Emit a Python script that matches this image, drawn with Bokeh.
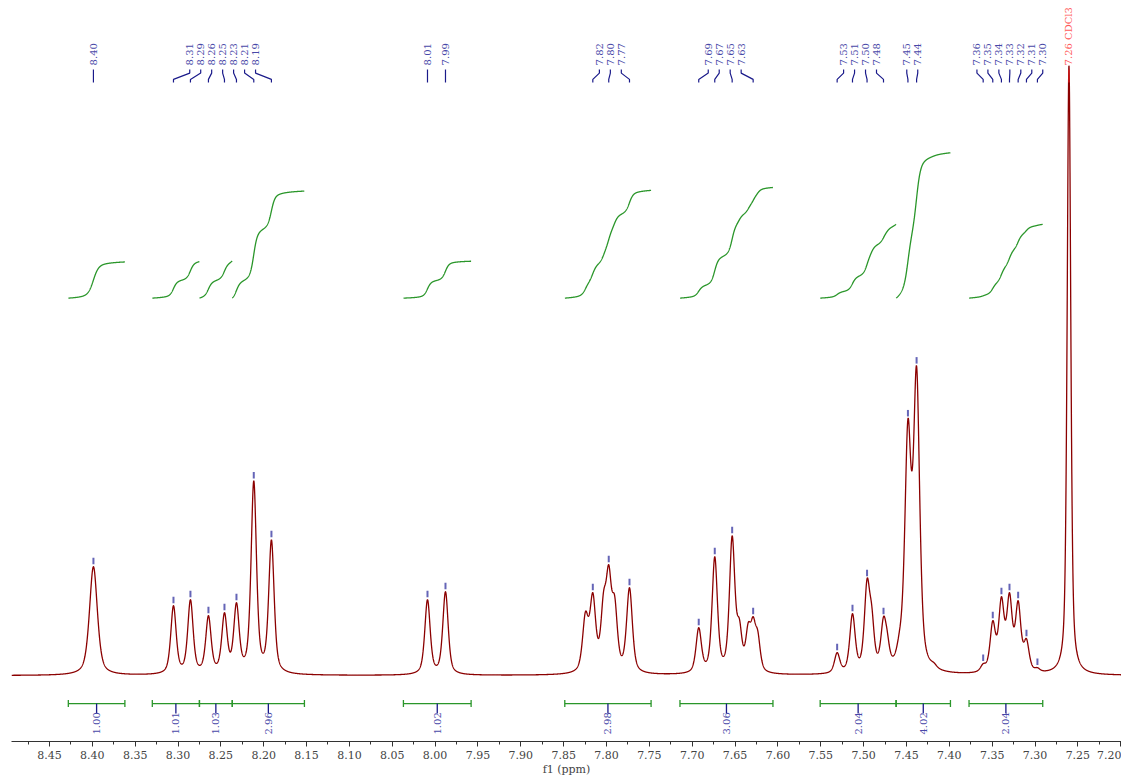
import numpy as np
from bokeh.plotting import figure
from bokeh.models import Range1d, SingleIntervalTicker, PrintfTickFormatter
from bokeh.core.properties import value
from bokeh.embed import file_html
from bokeh.resources import INLINE

# ---- 1H NMR data (CDCl3) ----
# resolved lines: centre (ppm), apex height (intensity), full width at half height (ppm)
line_ppm = [8.3987,
            8.3053, 8.2855, 8.2645, 8.2458, 8.2318, 8.2116, 8.1910,
            8.0089, 7.9879,
            7.8246, 7.8160, 7.8035, 7.7974, 7.7905, 7.7732,
            7.6924, 7.6737, 7.6534, 7.6450, 7.6347, 7.6289, 7.6235,
            7.5309, 7.5130, 7.4960, 7.4905, 7.4768, 7.4725, 7.4580, 7.4483, 7.4382, 7.4180,
            7.3605, 7.3493, 7.3392, 7.3298, 7.3197, 7.3100, 7.2972,
            7.2604]
line_height = [109,
               70, 76, 60, 63, 73, 195, 136,
               76, 84,
               64, 83, 84, 111, 80, 88,
               48, 119, 140, 57, 53, 59, 45,
               23, 62, 97, 70, 59, 45, 46, 257, 310, 13,
               12, 55, 79, 83, 75, 37, 8,
               611]
line_fwhm = [0.0110,
             0.0075, 0.0075, 0.0075, 0.0075, 0.0075, 0.0075, 0.0075,
             0.0075, 0.0075,
             0.0080, 0.0080, 0.0075, 0.0075, 0.0075, 0.0080,
             0.0075, 0.0075, 0.0075, 0.0070, 0.0070, 0.0070, 0.0070,
             0.0075, 0.0075, 0.0075, 0.0070, 0.0075, 0.0070, 0.0080, 0.0085, 0.0085, 0.0080,
             0.0075, 0.0075, 0.0075, 0.0075, 0.0075, 0.0075, 0.0070,
             0.0050]

# picked peaks and the multiplet each label belongs to
picked_ppm = [8.3987,
              8.3053, 8.2855, 8.2645, 8.2458, 8.2318, 8.2116, 8.1910,
              8.0089, 7.9879,
              7.8160, 7.7974, 7.7732,
              7.6924, 7.6737, 7.6534, 7.6289,
              7.5309, 7.5130, 7.4960, 7.4768,
              7.4483, 7.4382,
              7.3605, 7.3493, 7.3392, 7.3298, 7.3197, 7.3100, 7.2972,
              7.2604]
picked_group = [0,
                1, 1, 1, 1, 1, 1, 1,
                2, 3,
                4, 4, 4,
                5, 5, 5, 5,
                6, 6, 6, 6,
                7, 7,
                8, 8, 8, 8, 8, 8, 8,
                9]
solvent_ppm = 7.2604
solvent_name = "CDCl3"

# integration regions (ppm) and their normalised values
integral_start = [8.428, 8.330, 8.275, 8.2367, 8.037, 7.8487, 7.7143, 7.5507, 7.4621, 7.377]
integral_end = [8.362, 8.275, 8.2367, 8.1525, 7.958, 7.748, 7.6058, 7.4621, 7.3987, 7.291]
integral_value = [1.00, 1.01, 1.03, 2.96, 1.02, 2.98, 3.06, 2.04, 4.02, 2.04]

# ---- layout / style ----
X_LEFT, X_RIGHT = 8.4943, 7.1991
Y_BOTTOM, Y_TOP = -66, 676
LABEL_STEP = 0.0128          # spacing of labels inside a multiplet (ppm)
INT_BASE, INT_UNIT = 378, 36.2
SERIF = value("DejaVu Serif")
SPEC_COLOR = "#8b0000"
LABEL_TEXT = "#4848a8"
LABEL_LINE = "#1a1a8a"
GREEN = "#2a962a"


def lineshape(x, c, fwhm, eta=0.55):
    d2 = ((x - c) / (fwhm / 2.0)) ** 2
    return eta / (1.0 + d2) + (1.0 - eta) * np.exp(-np.log(2.0) * d2)


c = np.array(line_ppm)
h = np.array(line_height, dtype=float)
w = np.array(line_fwhm)

# amplitudes so that the summed spectrum passes through the listed apex heights
M = lineshape(c[:, None], c[None, :], w[None, :])
amp = h.copy()
for _ in range(3000):
    amp *= h / (M @ amp)

ppm = np.linspace(X_LEFT, X_RIGHT, 8000)
spec = (lineshape(ppm[:, None], c[None, :], w[None, :]) * amp[None, :]).sum(axis=1)


def spec_at(x):
    return np.interp(x, ppm[::-1], spec[::-1])


p = figure(width=1121, height=778, output_backend="svg", toolbar_location=None,
           x_range=Range1d(X_LEFT, X_RIGHT), y_range=Range1d(Y_BOTTOM, Y_TOP),
           y_axis_location=None, min_border_left=11, min_border_right=0,
           min_border_top=0, min_border_bottom=0)
p.grid.visible = False
p.outline_line_color = None
p.background_fill_color = "white"
p.border_fill_color = "white"

ax = p.xaxis[0]
ax.ticker = SingleIntervalTicker(interval=0.05, num_minor_ticks=2)
ax.formatter = PrintfTickFormatter(format="%.2f")
ax.axis_label = "f1 (ppm)"
ax.axis_label_text_font = "DejaVu Serif"
ax.axis_label_text_font_style = "normal"
ax.axis_label_text_font_size = "11px"
ax.axis_label_text_color = "#444444"
ax.axis_label_standoff = 1
ax.major_label_text_font = "DejaVu Serif"
ax.major_label_text_font_size = "11px"
ax.major_label_text_color = "#444444"
ax.major_label_standoff = 4
ax.axis_line_color = "#333333"
ax.major_tick_line_color = "#333333"
ax.minor_tick_line_color = "#333333"
ax.major_tick_in = 0
ax.major_tick_out = 5
ax.minor_tick_in = 0
ax.minor_tick_out = 3

# spectrum trace
p.line(ppm, spec, line_color=SPEC_COLOR, line_width=1.3)

# integral curves
for a, b, v in zip(integral_start, integral_end, integral_value):
    seg = (ppm <= a) & (ppm >= b)
    xs = ppm[seg]
    cum = np.cumsum(spec[seg])
    cum = cum - cum[0]
    ys = INT_BASE + cum / cum[-1] * v * INT_UNIT
    p.line(xs, ys, line_color=GREEN, line_width=1.3)

# integration brackets with values
mids = [(a + b) / 2 for a, b in zip(integral_start, integral_end)]
p.segment(x0=integral_start, x1=integral_end, y0=-28, y1=-28, line_color=GREEN, line_width=1.3)
p.segment(x0=integral_start, x1=integral_start, y0=-31.5, y1=-24.5, line_color=GREEN, line_width=1.3)
p.segment(x0=integral_end, x1=integral_end, y0=-31.5, y1=-24.5, line_color=GREEN, line_width=1.3)
p.segment(x0=mids, x1=mids, y0=-28, y1=-38, line_color=LABEL_LINE, line_width=1.3)
p.text(x=mids, y=[-59] * len(mids), text=[f"{v:.2f}" for v in integral_value],
       angle=np.pi / 2, text_align="left", text_baseline="middle",
       text_font=SERIF, text_font_size="10px", text_color=LABEL_TEXT)

# peak labels spread evenly around their multiplet centre
label_x = []
for gi in sorted(set(picked_group)):
    members = [x for x, g in zip(picked_ppm, picked_group) if g == gi]
    centre = float(np.mean(members))
    n = len(members)
    label_x += [centre + (n - 1) / 2 * LABEL_STEP - k * LABEL_STEP for k in range(n)]

is_solvent = [abs(x - solvent_ppm) < 1e-6 for x in picked_ppm]
conn_xs = [[pk, pk, lx, lx] for pk, lx in zip(picked_ppm, label_x)]
conn_ys = [[594, 597, 603.3, 607]] * len(picked_ppm)
conn_col = ["#e02020" if s else LABEL_LINE for s in is_solvent]
p.multi_line(xs=conn_xs, ys=conn_ys, line_color=conn_col, line_width=1.2)

texts = [f"{x:.2f}  {solvent_name}" if s else f"{x:.2f}" for x, s in zip(picked_ppm, is_solvent)]
tcol = ["#ff5a5a" if s else LABEL_TEXT for s in is_solvent]
p.text(x=label_x, y=[611] * len(label_x), text=texts, angle=np.pi / 2,
       text_align="left", text_baseline="middle", text_font=SERIF,
       text_font_size="10px", text_color=tcol)

# small peak markers above each picked apex
tops = spec_at(np.array(picked_ppm))
mk = [(x, t) for x, t, s in zip(picked_ppm, tops, is_solvent) if not s]
p.segment(x0=[m[0] for m in mk], x1=[m[0] for m in mk],
          y0=[m[1] + 2.5 for m in mk], y1=[m[1] + 9 for m in mk],
          line_color="#4a4aaa", line_width=2, line_alpha=0.85)

open("out.html", "w").write(file_html(p, INLINE))
